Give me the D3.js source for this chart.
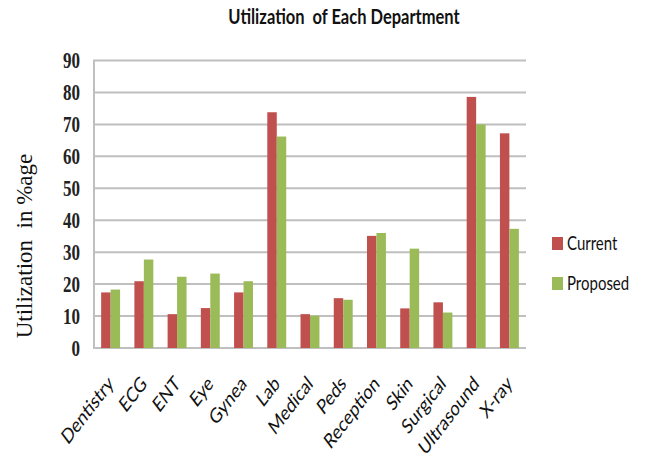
<!DOCTYPE html>
<html><head><meta charset="utf-8">
<script src="https://cdn.jsdelivr.net/npm/d3@7"></script>
<style>
html,body{margin:0;padding:0;background:#fff;}
svg{display:block;}
</style></head>
<body>
<svg id="chart" width="647" height="461"></svg>
<script>
const categories = ["Dentistry","ECG","ENT","Eye","Gynea","Lab","Medical","Peds","Reception","Skin","Surgical","Ultrasound","X-ray"];
const currentValues  = [17.4, 20.9, 10.6, 12.5, 17.4, 73.8, 10.6, 15.6, 35.1, 12.4, 14.3, 78.6, 67.2];
const proposedValues = [18.3, 27.7, 22.3, 23.3, 20.9, 66.2, 10.1, 15.1, 36.0, 31.1, 11.1, 70.0, 37.3];
const seriesNames = ["Current","Proposed"];
const yTicks = [0,10,20,30,40,50,60,70,80,90];
const titleText = "Utilization  of Each Department";
const yTitleText = "Utilization  in %age";

const colors = {Current:"#c0504d", Proposed:"#9bbb59"};
const STRETCH = 1.3;
const svg = d3.select("#chart");
svg.append("rect").attr("width",647).attr("height",461).attr("fill","#fff");

const plotLeft = 93, plotRight = 526;
const x = d3.scaleBand().domain(categories).range([plotLeft+1, plotRight]).paddingInner(0.43).paddingOuter(0.215);
const x1 = d3.scaleBand().domain(seriesNames).range([0, x.bandwidth()]);
const y = d3.scaleLinear().domain([0,90]).range([348, 60.5]);

// gridlines
svg.append("g").selectAll("line").data(yTicks).join("line")
  .attr("x1", plotLeft).attr("x2", plotRight)
  .attr("y1", d=>y(d)).attr("y2", d=>y(d))
  .attr("stroke","#bfbfbf").attr("stroke-width",2);
// y axis line
svg.append("line").attr("x1",plotLeft+1).attr("x2",plotLeft+1)
  .attr("y1",y(90)).attr("y2",y(0)).attr("stroke","#bfbfbf").attr("stroke-width",2);

// y tick labels
svg.append("g").selectAll("g").data(yTicks).join("g")
  .attr("transform", d=>`translate(80,${y(d)}) scale(1,${STRETCH})`)
  .append("text").text(d=>d)
  .attr("text-anchor","end").attr("dy","0.34em")
  .attr("font-family","Liberation Serif").attr("font-weight","bold")
  .attr("font-size",17).attr("fill","#222");

// bars
const rows = categories.map((c,i)=>({cat:c, vals:[{s:"Current",v:currentValues[i]},{s:"Proposed",v:proposedValues[i]}]}));
const grp = svg.append("g").selectAll("g").data(rows).join("g")
  .attr("transform", d=>`translate(${x(d.cat)},0)`);
grp.selectAll("rect").data(d=>d.vals).join("rect")
  .attr("x", d=>x1(d.s)).attr("width", x1.bandwidth())
  .attr("y", d=>y(d.v)).attr("height", d=>y(0)-y(d.v))
  .attr("fill", d=>colors[d.s]);

// category labels
svg.append("g").selectAll("g").data(categories).join("g")
  .attr("transform", d=>`translate(${x(d)+x.bandwidth()/2+4},385) scale(1,${STRETCH}) rotate(-45)`)
  .append("text").text(d=>d)
  .attr("text-anchor","end")
  .attr("font-family","Lato").attr("font-size",16).attr("fill","#111");

// title
svg.append("g").attr("transform",`translate(344,24) scale(1,${STRETCH})`)
  .append("text").text(titleText).attr("text-anchor","middle")
  .attr("font-family","Lato").attr("font-weight","bold").attr("font-size",16.5)
  .attr("fill","#111").style("white-space","pre");

// y title
svg.append("text").attr("transform","translate(32,246) rotate(-90)")
  .attr("text-anchor","middle").text(yTitleText)
  .attr("font-family","Liberation Serif").attr("font-size",23).attr("fill","#111")
  .style("white-space","pre");

// legend
const leg = svg.append("g").selectAll("g").data(seriesNames).join("g")
  .attr("transform",(d,i)=>`translate(552,${237+i*40})`);
leg.append("rect").attr("width",11).attr("height",13).attr("fill",d=>colors[d]);
leg.append("g").attr("transform",`translate(15,13) scale(1,${STRETCH})`)
  .append("text").text(d=>d)
  .attr("font-family","Lato").attr("font-size",15).attr("fill","#111");
</script>
</body></html>
